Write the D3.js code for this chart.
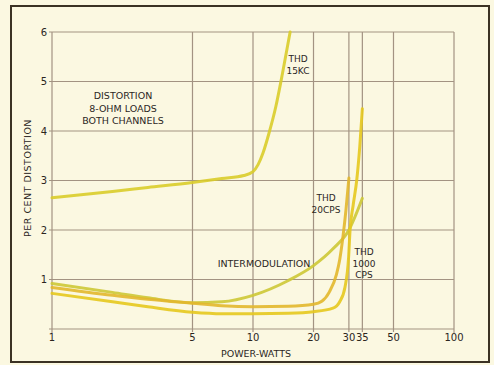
<!DOCTYPE html>
<meta charset="utf-8">
<script src="https://d3js.org/d3.v7.min.js"></script>
<style>
  body { margin: 0; background: #fbf8e1; }
  text { font-family: "DejaVu Sans", sans-serif; fill: #2b261e; }
  .grid line { stroke: #a39382; stroke-width: 1.2; }
</style>
<svg></svg>
<script>

// DATA

var xTicks = [1, 5, 10, 20, 30, 35, 50, 100];
var yTicks = [1, 2, 3, 4, 5, 6];

// watts for every curve point, per cent distortion
var thd15kcW   = [1, 2, 3, 5, 7, 9, 10, 10.6, 11.2, 12, 13, 14, 15.3];
var thd15kcPct = [2.65, 2.78, 2.86, 2.96, 3.04, 3.1, 3.18, 3.32, 3.55, 3.95, 4.5, 5.15, 6.0];

var imW   = [1, 2, 3, 5, 7, 10, 15, 20, 25, 30, 35];
var imPct = [0.92, 0.74, 0.63, 0.53, 0.55, 0.68, 0.98, 1.28, 1.62, 2.0, 2.64];

var thd20W   = [1, 2, 3, 5, 7, 10, 15, 20, 22, 24, 26, 27, 28, 29, 30];
var thd20Pct = [0.84, 0.68, 0.6, 0.52, 0.47, 0.45, 0.46, 0.5, 0.56, 0.75, 1.1, 1.4, 1.85, 2.4, 3.05];

var thd1kW   = [1, 2, 3, 5, 7, 10, 15, 20, 25, 27, 28.7, 29.9, 30.4, 31.5, 32.8, 34, 35];
var thd1kPct = [0.72, 0.55, 0.45, 0.34, 0.31, 0.31, 0.32, 0.35, 0.42, 0.55, 0.85, 1.45, 2.0, 2.5, 3.0, 3.7, 4.45];

// GLOBALS

var width = 494;
var height = 365;

var svg = d3.select("svg")
    .attr("width", width)
    .attr("height", height);

svg.append("rect")
    .attr("width", width)
    .attr("height", height)
    .attr("fill", "#fbf8e1");

// outer frame of the scanned figure
svg.append("rect")
    .attr("x", 11)
    .attr("y", 6)
    .attr("width", 478)
    .attr("height", 356)
    .attr("fill", "none")
    .attr("stroke", "#3b3224")
    .attr("stroke-width", 2);

// SCALES

var x = d3.scaleLog()
    .domain([1, 100])
    .range([52, 454]);

var y = d3.scaleLinear()
    .domain([0, 6])
    .range([329, 32]);

// GRID

var grid = svg.append("g").attr("class", "grid");

grid.selectAll(".vx")
    .data(xTicks)
    .enter().append("line")
        .attr("x1", function(d) { return x(d); })
        .attr("x2", function(d) { return x(d); })
        .attr("y1", y(6))
        .attr("y2", function(d) { return d == 1 || d == 100 ? y(0) + 4 : y(0) + 3; });

grid.selectAll(".hy")
    .data([0].concat(yTicks))
    .enter().append("line")
        .attr("x1", x(1) - 3)
        .attr("x2", x(100))
        .attr("y1", function(d) { return y(d); })
        .attr("y2", function(d) { return y(d); });

// AXES LABELS

svg.append("g")
    .selectAll("text")
    .data(yTicks)
    .enter().append("text")
        .attr("x", 47)
        .attr("y", function(d) { return y(d) + 3.5; })
        .attr("text-anchor", "end")
        .style("font-size", "10px")
        .text(function(d) { return d; });

svg.append("g")
    .selectAll("text")
    .data(xTicks)
    .enter().append("text")
        .attr("x", function(d) { return x(d); })
        .attr("y", 341)
        .attr("text-anchor", "middle")
        .style("font-size", "10px")
        .text(function(d) { return d; });

svg.append("text")
    .attr("x", 256)
    .attr("y", 357)
    .attr("text-anchor", "middle")
    .style("font-size", "9.5px")
    .text("POWER-WATTS");

svg.append("text")
    .attr("transform", "translate(31,178) rotate(-90)")
    .attr("text-anchor", "middle")
    .style("font-size", "9.5px")
    .style("letter-spacing", "0.5px")
    .text("PER CENT  DISTORTION");

// CURVES

var line = d3.line()
    .x(function(d) { return x(d[0]); })
    .y(function(d) { return y(d[1]); })
    .curve(d3.curveMonotoneX);

var curves = [
    { w: thd15kcW, p: thd15kcPct, color: "#d9cc2a" },
    { w: imW,      p: imPct,      color: "#cdc836" },
    { w: thd20W,   p: thd20Pct,   color: "#e2b72c" },
    { w: thd1kW,   p: thd1kPct,   color: "#e6c81e" }
];

svg.append("g")
    .selectAll("path")
    .data(curves)
    .enter().append("path")
        .attr("d", function(c) { return line(d3.zip(c.w, c.p)); })
        .attr("fill", "none")
        .attr("stroke", function(c) { return c.color; })
        .attr("stroke-width", 3)
        .attr("stroke-linecap", "round")
        .style("opacity", 0.9);

// ANNOTATIONS

function label(lines, cx, top, step, size) {
    var t = svg.append("text")
        .attr("text-anchor", "middle")
        .style("font-size", size + "px");
    lines.forEach(function(s, i) {
        t.append("tspan")
            .attr("x", cx)
            .attr("y", top + i * step)
            .text(s);
    });
}

label(["DISTORTION", "8-OHM  LOADS", "BOTH CHANNELS"], 123, 99, 12.5, 9.5);
label(["THD", "15KC"], 298, 62, 11.5, 9);
label(["THD", "20CPS"], 326, 201, 11.5, 9);
label(["THD", "1000", "CPS"], 364, 255, 11.5, 9);
label(["INTERMODULATION"], 264, 267, 0, 9.5);

</script>
